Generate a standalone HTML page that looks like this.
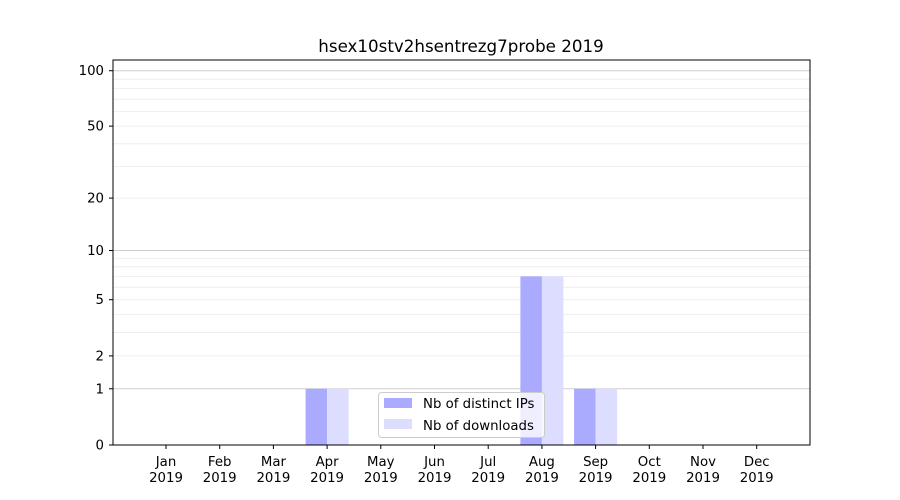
<!DOCTYPE html>
<html><head><meta charset="utf-8"><style>
body{margin:0;background:#fff;}
svg{display:block;font-family:"DejaVu Sans","Liberation Sans",sans-serif;}
</style></head><body>
<svg width="900" height="500" xmlns="http://www.w3.org/2000/svg">
<rect width="900" height="500" fill="#fff"/>
<g id="grid"></g>
<g id="bars"></g>
<rect x="113" y="60" width="697" height="385" fill="none" stroke="#000" stroke-width="1"/>
<g id="yt" font-size="13.3" text-anchor="end"></g>
<g id="xt" font-size="13.3" text-anchor="middle"></g>
<text x="461" y="52" font-size="16.7" text-anchor="middle">hsex10stv2hsentrezg7probe 2019</text>
<g>
<rect x="378.5" y="392.5" width="166" height="45" fill="#fff" fill-opacity="0.8" stroke="#ccc" rx="3"/>
<rect x="384" y="398" width="28" height="10" fill="#aaaaff"/>
<text x="423" y="408" font-size="13.3">Nb of distinct IPs</text>
<rect x="384" y="419" width="28" height="10" fill="#ddddff"/>
<text x="423" y="430" font-size="13.3">Nb of downloads</text>
</g>
<script>
var ns="http://www.w3.org/2000/svg";
function Y(v){return 445-81.1*Math.log(1+v);}
function el(p,t,a,txt){var e=document.createElementNS(ns,t);for(var k in a)e.setAttribute(k,a[k]);if(txt!==undefined)e.textContent=txt;document.getElementById(p).appendChild(e);return e;}
var minors=[2,3,4,5,6,7,8,9,20,30,40,50,60,70,80,90];
minors.forEach(function(v){var y=Y(v);el("grid","line",{x1:113,x2:810,y1:y,y2:y,stroke:"#ebebeb","stroke-width":0.8});});
[1,10,100].forEach(function(v){var y=Y(v);el("grid","line",{x1:113,x2:810,y1:y,y2:y,stroke:"#cfcfcf","stroke-width":1});});
[0,1,2,5,10,20,50,100].forEach(function(v){var y=Y(v);el("yt","line",{x1:109,x2:113,y1:y,y2:y,stroke:"#000"});el("yt","text",{x:104,y:y+4.5},String(v));});
var m=["Jan","Feb","Mar","Apr","May","Jun","Jul","Aug","Sep","Oct","Nov","Dec"];
var vals={3:1,7:7,8:1};
m.forEach(function(n,i){var cx=166+i*53.7;
el("xt","line",{x1:cx,x2:cx,y1:445,y2:449,stroke:"#000"});
el("xt","text",{x:cx,y:466},n);el("xt","text",{x:cx,y:482},"2019");
if(vals[i]){var y=Y(vals[i]);el("bars","rect",{x:cx-21.5,y:y,width:21.5,height:445-y,fill:"#aaaaff"});el("bars","rect",{x:cx,y:y,width:21.5,height:445-y,fill:"#ddddff"});}
});
</script>
</svg>
</body></html>
